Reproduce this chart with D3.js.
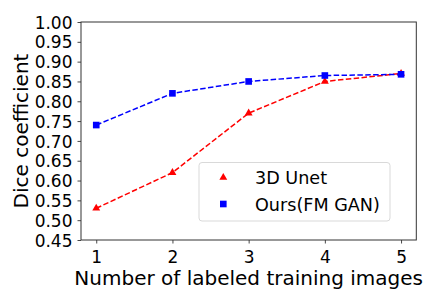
<!DOCTYPE html>
<html><head><meta charset="utf-8">
<script src="https://cdn.jsdelivr.net/npm/d3@7"></script>
<style>body{margin:0;background:#fff}svg{display:block}text{font-family:"DejaVu Sans",sans-serif;fill:#000}</style>
</head><body><svg id="c" width="443" height="300"></svg>
<script>
const xValues = [1, 2, 3, 4, 5];
const unetValues = [0.53, 0.62, 0.77, 0.85, 0.87];
const ganValues = [0.74, 0.82, 0.85, 0.865, 0.868];
const yTicks = [0.45,0.50,0.55,0.60,0.65,0.70,0.75,0.80,0.85,0.90,0.95,1.00];
const seriesNames = ["3D Unet", "Ours(FM GAN)"];

const svg = d3.select("#c");
const L=81, R=416.3, T=22, B=240;
const x = d3.scaleLinear().domain([0.8,5.2]).range([L,R]);
const y = d3.scaleLinear().domain([0.45,1.00]).range([B,T]);

const xa = svg.append("g").attr("transform",`translate(0,${B})`)
  .call(d3.axisBottom(x).tickValues(xValues).tickFormat(d3.format("d")).tickSizeOuter(0).tickSize(3.5).tickPadding(4));
const ya = svg.append("g").attr("transform",`translate(${L},0)`)
  .call(d3.axisLeft(y).tickValues(yTicks).tickFormat(d3.format(".2f")).tickSizeOuter(0).tickSize(3.5).tickPadding(5));
[xa,ya].forEach(a=>{a.select(".domain").remove();a.selectAll("line").attr("stroke","#333").attr("stroke-width",0.9);
  a.selectAll("text").attr("font-size",17).attr("font-family","DejaVu Sans").attr("fill","#000");});
xa.selectAll("text").attr("y",22.7).attr("dy",0);
ya.selectAll("text").attr("dy","0.36em");

svg.append("rect").attr("x",L).attr("y",T).attr("width",R-L).attr("height",B-T)
  .attr("fill","none").attr("stroke","#333").attr("stroke-width",1);

const line = d3.line().x((d,i)=>x(xValues[i])).y(d=>y(d));
svg.append("path").datum(unetValues).attr("d",line).attr("fill","none").attr("stroke","#ff0000").attr("stroke-width",1.5).attr("stroke-dasharray","5.5,2.4");
svg.append("path").datum(ganValues).attr("d",line).attr("fill","none").attr("stroke","#0000ff").attr("stroke-width",1.5).attr("stroke-dasharray","5.5,2.4");

const tri = d3.symbol().type(d3.symbolTriangle).size(27);
const sq = d3.symbol().type(d3.symbolSquare).size(44);
svg.selectAll(".u").data(unetValues).enter().append("path").attr("d",tri)
  .attr("transform",(d,i)=>`translate(${x(xValues[i])},${y(d)})`).attr("fill","#ff0000");
svg.selectAll(".g").data(ganValues).enter().append("path").attr("d",sq)
  .attr("transform",(d,i)=>`translate(${x(xValues[i])},${y(d)})`).attr("fill","#0000ff");

// legend
const lg = svg.append("g");
lg.append("rect").attr("x",199).attr("y",162.5).attr("width",191).attr("height",58.5).attr("rx",3)
  .attr("fill","#fff").attr("fill-opacity",0.8).attr("stroke","#d9d9d9").attr("stroke-width",1);
lg.append("path").attr("d",tri).attr("transform","translate(223.3,177.5)").attr("fill","#ff0000");
lg.append("path").attr("d",sq).attr("transform","translate(223.3,204)").attr("fill","#0000ff");
lg.append("text").attr("x",255).attr("y",183.5).attr("font-size",17.6).text(seriesNames[0]);
lg.append("text").attr("x",255).attr("y",210.5).attr("font-size",17.6).text(seriesNames[1]);

svg.append("text").attr("x",(L+R)/2).attr("y",285).attr("text-anchor","middle").attr("font-size",20).text("Number of labeled training images");
svg.append("text").attr("transform",`translate(28,${(T+B)/2}) rotate(-90)`).attr("text-anchor","middle").attr("font-size",20).text("Dice coefficient");
</script></body></html>
